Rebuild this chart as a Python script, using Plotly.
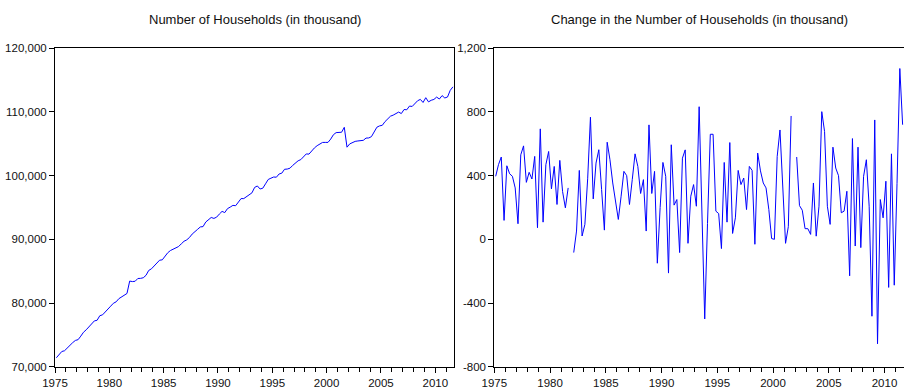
import plotly.graph_objects as go

# ---------------- data (quarterly, 1975Q1 .. 2011Q3) ----------------
start_year = 1975
n_quarters = 147
periods = [f"{start_year + i // 4}Q{i % 4 + 1}" for i in range(n_quarters)]

households = [
    71400, 71869, 72386, 72505, 72967, 73379, 73775, 74123, 74246, 74802,
    75414, 75797, 76243, 76647, 77193, 77291, 78010, 78143, 78637, 79189,
    79506, 79964, 80183, 80679, 80979, 81177, 81500, 83450, 83367, 83419,
    83852, 83873, 83967, 84347, 85114, 85368, 85847, 86410, 86723, 86781,
    87391, 87891, 88245, 88474, 88599, 88870, 89297, 89697, 89916, 90291,
    90828, 91286, 91574, 91949, 92001, 92720, 93008, 93435, 93285, 93485,
    93968, 94389, 94202, 94821, 95061, 95336, 95278, 95813, 96400, 96400,
    96696, 97065, 97298, 98156, 98381, 97906, 98031, 98716, 99401, 99603,
    99790, 99757, 100265, 100393, 101001, 101038, 101173, 101606, 101950, 102335,
    102522, 102980, 103413, 103382, 103924, 104354, 104708, 105031, 105218, 105223,
    105223, 105744, 106431, 106761, 106736, 106816, 107591, 104470, 104987, 105199,
    105382, 105449, 105516, 105547, 105901, 105921, 106129, 106931, 107608, 107816,
    107910, 108489, 108937, 109337, 109504, 109681, 109983, 109754, 110387, 110345,
    110924, 110872, 111268, 111768, 111976, 111493, 112243, 111587, 111837, 111972,
    112337, 112035, 112572, 112200, 112350, 113400, 113950,
]

household_change = [
    396, 469, 517, 119, 462, 412, 396, 323, 98, 531,
    587, 358, 421, 379, 521, 73, 694, 108, 469, 552,
    317, 458, 219, 496, 300, 198, 323, None, -83, 52,
    433, 21, 94, 380, 767, 254, 479, 563, 313, 58,
    610, 500, 354, 229, 125, 271, 427, 400, 219, 375,
    537, 458, 288, 375, 52, 719, 288, 427, -150, 200,
    483, 396, -212, 594, 215, 250, -83, 510, 562, -25,
    271, 344, 208, 833, 200, -500, 100, 660, 660, 177,
    162, -58, 483, 108, 608, 37, 135, 433, 344, 385,
    187, 458, 433, -31, 542, 430, 354, 323, 187, 5,
    0, 521, 687, 330, -25, 80, 775, None, 517, 212,
    183, 67, 67, 31, 354, 20, 208, 802, 677, 208,
    94, 579, 448, 400, 167, 177, 302, -229, 633, -42,
    579, -52, 396, 500, 208, -483, 750, -656, 250, 135,
    365, -302, 537, -288, 350, 1073, 720,
]

year_ticks = [1975, 1980, 1985, 1990, 1995, 2000, 2005, 2010]
year_labels = ["1975", "1980", "1985", "1990", "1995", "2000", "2005", "2010"]
level_ticks = [70000, 80000, 90000, 100000, 110000, 120000]
level_labels = ["70,000", "80,000", "90,000", "100,000", "110,000", "120,000"]
change_ticks = [-800, -400, 0, 400, 800, 1200]
change_labels = ["-800", "-400", "0", "400", "800", "1,200"]

titles = ["Number of Households (in thousand)",
          "Change in the Number of Households (in thousand)"]

# observation positions: centre of each quarter on a decimal-year axis
def period_to_x(p):
    y, q = p.split("Q")
    return int(y) + (int(q) - 1) / 4 + 0.125

x_vals = [period_to_x(p) for p in periods]
x_range = [start_year, start_year + n_quarters / 4]

# ---------------- figure ----------------
FONT = "Liberation Sans, Arial, sans-serif"
LINE = "#0000ff"

fig = go.Figure()
fig.add_trace(go.Scatter(x=x_vals, y=households, mode="lines",
                         line=dict(color=LINE, width=1), xaxis="x", yaxis="y",
                         connectgaps=False, showlegend=False, hoverinfo="skip"))
fig.add_trace(go.Scatter(x=x_vals, y=household_change, mode="lines",
                         line=dict(color=LINE, width=1), xaxis="x2", yaxis="y2",
                         connectgaps=False, showlegend=False, hoverinfo="skip"))

ydom = [1 - 366.7 / 390, 1 - 48.3 / 390]
xdom1 = [55 / 904, 454.3 / 904]
xdom2 = [494.3 / 904, 1.0]

common_x = dict(range=x_range, tickmode="array", tickvals=year_ticks, ticktext=year_labels,
                ticks="outside", ticklen=5, tickwidth=1, tickcolor="#000",
                minor=dict(dtick=1, tick0=1975, ticks="outside", ticklen=4,
                           tickwidth=1, tickcolor="#000", showgrid=False),
                showline=True, linecolor="#000", linewidth=1, mirror=True,
                showgrid=False, zeroline=False, automargin=False, ticklabelstandoff=0,
                tickfont=dict(family=FONT, size=11.5, color="#111"))
common_y = dict(ticks="outside", ticklen=5, tickwidth=1, tickcolor="#000",
                showline=True, linecolor="#000", linewidth=1, mirror=True,
                showgrid=False, zeroline=False, tickmode="array", automargin=False,
                tickfont=dict(family=FONT, size=11.5, color="#111"))

fig.update_layout(
    template="none",
    width=904, height=390,
    margin=dict(l=0, r=0, t=0, b=0, autoexpand=False),
    paper_bgcolor="white", plot_bgcolor="white",
    xaxis=dict(domain=xdom1, anchor="y", **common_x),
    yaxis=dict(domain=ydom, anchor="x", range=[70000, 120000],
               tickvals=level_ticks, ticktext=level_labels, **common_y),
    xaxis2=dict(domain=xdom2, anchor="y2", **common_x),
    yaxis2=dict(domain=ydom, anchor="x2", range=[-800, 1200],
                tickvals=change_ticks, ticktext=change_labels, **common_y),
    annotations=[
        dict(text=titles[0], x=(xdom1[0] + xdom1[1]) / 2, y=1 - 19 / 390,
             xref="paper", yref="paper", xanchor="center", yanchor="middle",
             showarrow=False, font=dict(family=FONT, size=13, color="#111")),
        dict(text=titles[1], x=(xdom2[0] + 904.5 / 904) / 2, y=1 - 19 / 390,
             xref="paper", yref="paper", xanchor="center", yanchor="middle",
             showarrow=False, font=dict(family=FONT, size=13, color="#111")),
    ],
)

fig.write_html("out.html",
               config={"displayModeBar": False},
               post_script="document.body.style.margin='0';document.body.style.padding='0';")
